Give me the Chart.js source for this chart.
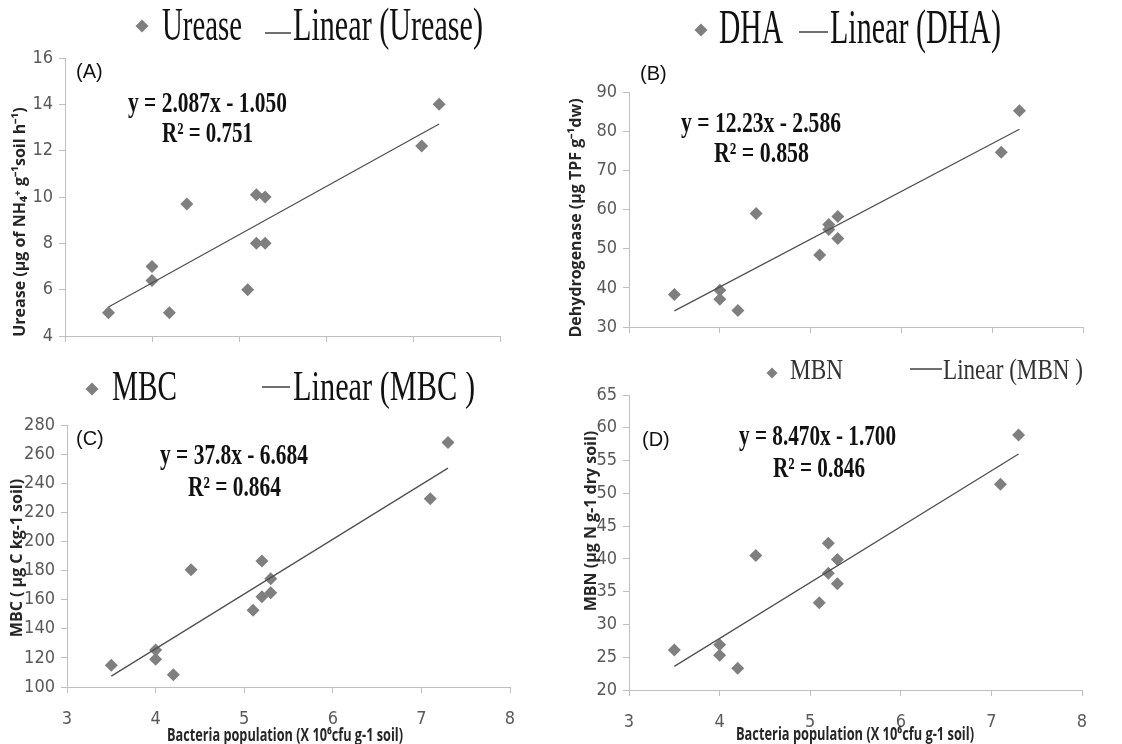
<!DOCTYPE html>
<html>
<head>
<meta charset="utf-8">
<script src="https://cdn.jsdelivr.net/npm/chart.js@4.4.1/dist/chart.umd.min.js"></script>
<style>
  body { margin: 0; background: #fff; width: 1122px; height: 744px; overflow: hidden; position: relative; }
  canvas { position: absolute; }
</style>
</head>
<body>
<canvas id="chartA" width="561" height="372" style="left:0;top:0"></canvas>
<canvas id="chartB" width="561" height="372" style="left:561px;top:0"></canvas>
<canvas id="chartC" width="561" height="372" style="left:0;top:372px"></canvas>
<canvas id="chartD" width="561" height="404" style="left:561px;top:340px"></canvas>
<script>
// datos
const bacteria = [3.5, 4.0, 4.0, 4.2, 4.4, 5.1, 5.2, 5.2, 5.3, 5.3, 7.1, 7.3];
const urease = [5.0, 7.0, 6.4, 5.0, 9.7, 6.0, 10.1, 8.0, 10.0, 8.0, 12.2, 14.0];
const dha = [38.3, 39.4, 37.1, 34.2, 59.0, 48.4, 56.2, 54.9, 58.2, 52.6, 74.6, 85.2];
const mbc = [115, 125.5, 119, 108.5, 180.5, 152.7, 186.5, 162, 174.4, 164.8, 229.3, 268];
const mbn = [26.1, 26.9, 25.3, 23.3, 40.5, 33.3, 42.4, 37.8, 39.9, 36.2, 51.4, 58.9];

// extremos de las lineas de tendencia
const trendX = [3.5, 7.3];
const ureaseTrend = [5.25, 13.15];
const dhaTrend = [34.1, 80.5];
const mbcTrend = [107.5, 250.4];
const mbnTrend = [23.6, 56.0];

const xRange = [3, 8];
const xTitle = 'Bacteria population (X 10\u2076cfu g-1 soil)';

const MARK = '#7f7f7f';
const AXIS = '#bfbfbf';
const TICKFONT = '"Liberation Sans Narrow", "DejaVu Sans Condensed", "Liberation Sans", sans-serif';
const SERIF = '"Liberation Serif", "DejaVu Serif", serif';
const BOLDSANS = 'bold 17px "Open Sans", "Liberation Sans", sans-serif';

function txt(ctx, s, x, y, font, color, maxW) {
  ctx.save();
  ctx.font = font;
  ctx.fillStyle = color;
  ctx.textAlign = 'left';
  ctx.textBaseline = 'alphabetic';
  if (maxW) ctx.fillText(s, x, y, maxW); else ctx.fillText(s, x, y);
  ctx.restore();
}

function diamond(ctx, x, y, r) {
  ctx.save();
  ctx.fillStyle = MARK;
  ctx.beginPath();
  ctx.moveTo(x, y - r); ctx.lineTo(x + r, y); ctx.lineTo(x, y + r); ctx.lineTo(x - r, y);
  ctx.closePath();
  ctx.fill();
  ctx.restore();
}

// dibuja leyenda, etiqueta, ecuacion y titulos
const decor = {
  id: 'decor',
  afterDraw(chart, args, o) {
    const ctx = chart.ctx;
    const lg = o.legend;
    diamond(ctx, lg.dx, lg.dy, lg.r);
    txt(ctx, lg.name, lg.nx, lg.base, lg.size + 'px ' + SERIF, lg.color, lg.nw);
    ctx.save();
    ctx.strokeStyle = '#404040';
    ctx.lineWidth = 1.5;
    ctx.beginPath();
    ctx.moveTo(lg.l1, lg.ly); ctx.lineTo(lg.l2, lg.ly);
    ctx.stroke();
    ctx.restore();
    txt(ctx, lg.lin, lg.lx, lg.base, lg.size + 'px ' + SERIF, lg.color, lg.lw);

    txt(ctx, o.tag[0], o.tag[1], o.tag[2], '20px "Liberation Sans", Arial, sans-serif', '#111');

    const eq = o.eq;
    txt(ctx, eq.t1, eq.x1, eq.b1, 'bold 29px ' + SERIF, '#111', eq.w1);
    txt(ctx, eq.t2, eq.x2, eq.b2, 'bold 29px ' + SERIF, '#111', eq.w2);

    const yt = o.ytitle;
    ctx.save();
    ctx.translate(yt.x, yt.y);
    ctx.rotate(-Math.PI / 2);
    ctx.font = 'bold 16px "Open Sans", "Liberation Sans", sans-serif';
    ctx.fillStyle = '#262626';
    ctx.textAlign = 'center';
    ctx.textBaseline = 'middle';
    ctx.fillText(yt.text, 0, 0, yt.len);
    ctx.restore();

    if (o.xtitle) {
      const xt = o.xtitle;
      ctx.save();
      ctx.font = BOLDSANS;
      ctx.fillStyle = '#262626';
      ctx.textAlign = 'center';
      ctx.textBaseline = 'middle';
      ctx.fillText(xTitle, xt.x, xt.y, xt.len);
      ctx.restore();
    }
  }
};

function makePanel(id, ys, trend, yMin, yMax, yStep, area, showX, deco) {
  const canvas = document.getElementById(id);
  const W = canvas.width, H = canvas.height;
  const pts = bacteria.map((x, i) => ({ x: x, y: ys[i] }));
  const line = trendX.map((x, i) => ({ x: x, y: trend[i] }));
  new Chart(canvas.getContext('2d'), {
    type: 'scatter',
    data: {
      datasets: [
        {
          type: 'line', data: line, borderColor: '#505050', borderWidth: 1.3,
          pointRadius: 0, fill: false, tension: 0
        },
        {
          data: pts, pointStyle: 'rectRot', pointRadius: 6.5,
          backgroundColor: MARK, borderWidth: 0, pointBorderWidth: 0
        }
      ]
    },
    options: {
      responsive: false,
      animation: false,
      events: [],
      layout: { padding: { left: 0, top: area.top, right: W - area.right, bottom: 0 } },
      plugins: { legend: { display: false }, tooltip: { enabled: false }, decor: deco },
      scales: {
        x: {
          type: 'linear', min: xRange[0], max: xRange[1],
          ticks: { stepSize: 1, display: showX, color: '#595959', font: { size: 18, family: TICKFONT }, padding: 16 },
          grid: { drawOnChartArea: false, color: AXIS, tickLength: 6 },
          border: { color: AXIS },
          afterFit: s => { s.height = H - area.bottom; }
        },
        y: {
          min: yMin, max: yMax,
          ticks: { stepSize: yStep, color: '#595959', font: { size: 18, family: TICKFONT }, padding: 6 },
          grid: { drawOnChartArea: false, color: AXIS, tickLength: 6 },
          border: { color: AXIS },
          afterFit: s => { s.width = area.left; }
        }
      }
    },
    plugins: [decor]
  });
}

makePanel('chartA', urease, ureaseTrend, 4, 16, 2, { left: 65, right: 500, top: 58, bottom: 336 }, false, {
  legend: { dx: 142, dy: 26, r: 6.5, name: 'Urease', nx: 162, nw: 80, l1: 265, l2: 291, ly: 33,
            lin: 'Linear (Urease)', lx: 293, lw: 190, base: 40, size: 46, color: '#111' },
  tag: ['(A)', 76, 78],
  eq: { t1: 'y = 2.087x - 1.050', x1: 128, b1: 112, w1: 159, t2: 'R\u00b2 = 0.751', x2: 162, b2: 142, w2: 91 },
  ytitle: { text: 'Urease (\u00b5g of NH\u2084\u207a g\u207b\u00b9soil h\u207b\u00b9)', x: 20, y: 222, len: 235 }
});

makePanel('chartB', dha, dhaTrend, 30, 90, 10, { left: 68, right: 522, top: 92, bottom: 327 }, false, {
  legend: { dx: 140, dy: 30, r: 6.5, name: 'DHA', nx: 158, nw: 64, l1: 238, l2: 267, ly: 32,
            lin: 'Linear (DHA)', lx: 269, lw: 171, base: 43, size: 48, color: '#111' },
  tag: ['(B)', 79, 80],
  eq: { t1: 'y = 12.23x - 2.586', x1: 120, b1: 132, w1: 160, t2: 'R\u00b2 = 0.858', x2: 153, b2: 162, w2: 95 },
  ytitle: { text: 'Dehydrogenase (\u00b5g TPF g\u207b\u00b9dw)', x: 15, y: 218, len: 240 }
});

makePanel('chartC', mbc, mbcTrend, 100, 280, 20, { left: 67, right: 510, top: 53, bottom: 315 }, true, {
  legend: { dx: 92, dy: 17, r: 6.5, name: 'MBC', nx: 112, nw: 65, l1: 262, l2: 290, ly: 15,
            lin: 'Linear (MBC )', lx: 293, lw: 182, base: 28, size: 42, color: '#111' },
  tag: ['(C)', 76, 73],
  eq: { t1: 'y = 37.8x - 6.684', x1: 160, b1: 92, w1: 148, t2: 'R\u00b2 = 0.864', x2: 188, b2: 124, w2: 93 },
  ytitle: { text: 'MBC ( \u00b5g C kg-1 soil)', x: 17, y: 186, len: 163 },
  xtitle: { x: 285, y: 364, len: 236 }
});

makePanel('chartD', mbn, mbnTrend, 20, 65, 5, { left: 68, right: 521, top: 55, bottom: 350 }, true, {
  legend: { dx: 211, dy: 33, r: 5.5, name: 'MBN', nx: 229, nw: 53, l1: 349, l2: 381, ly: 29,
            lin: 'Linear (MBN )', lx: 382, lw: 140, base: 39, size: 30, color: '#333' },
  tag: ['(D)', 81, 106],
  eq: { t1: 'y = 8.470x - 1.700', x1: 178, b1: 105, w1: 157, t2: 'R\u00b2 = 0.846', x2: 212, b2: 137, w2: 92 },
  ytitle: { text: 'MBN (\u00b5g N g-1 dry soil)', x: 30, y: 181, len: 183 },
  xtitle: { x: 294, y: 395, len: 238 }
});
</script>
</body>
</html>
